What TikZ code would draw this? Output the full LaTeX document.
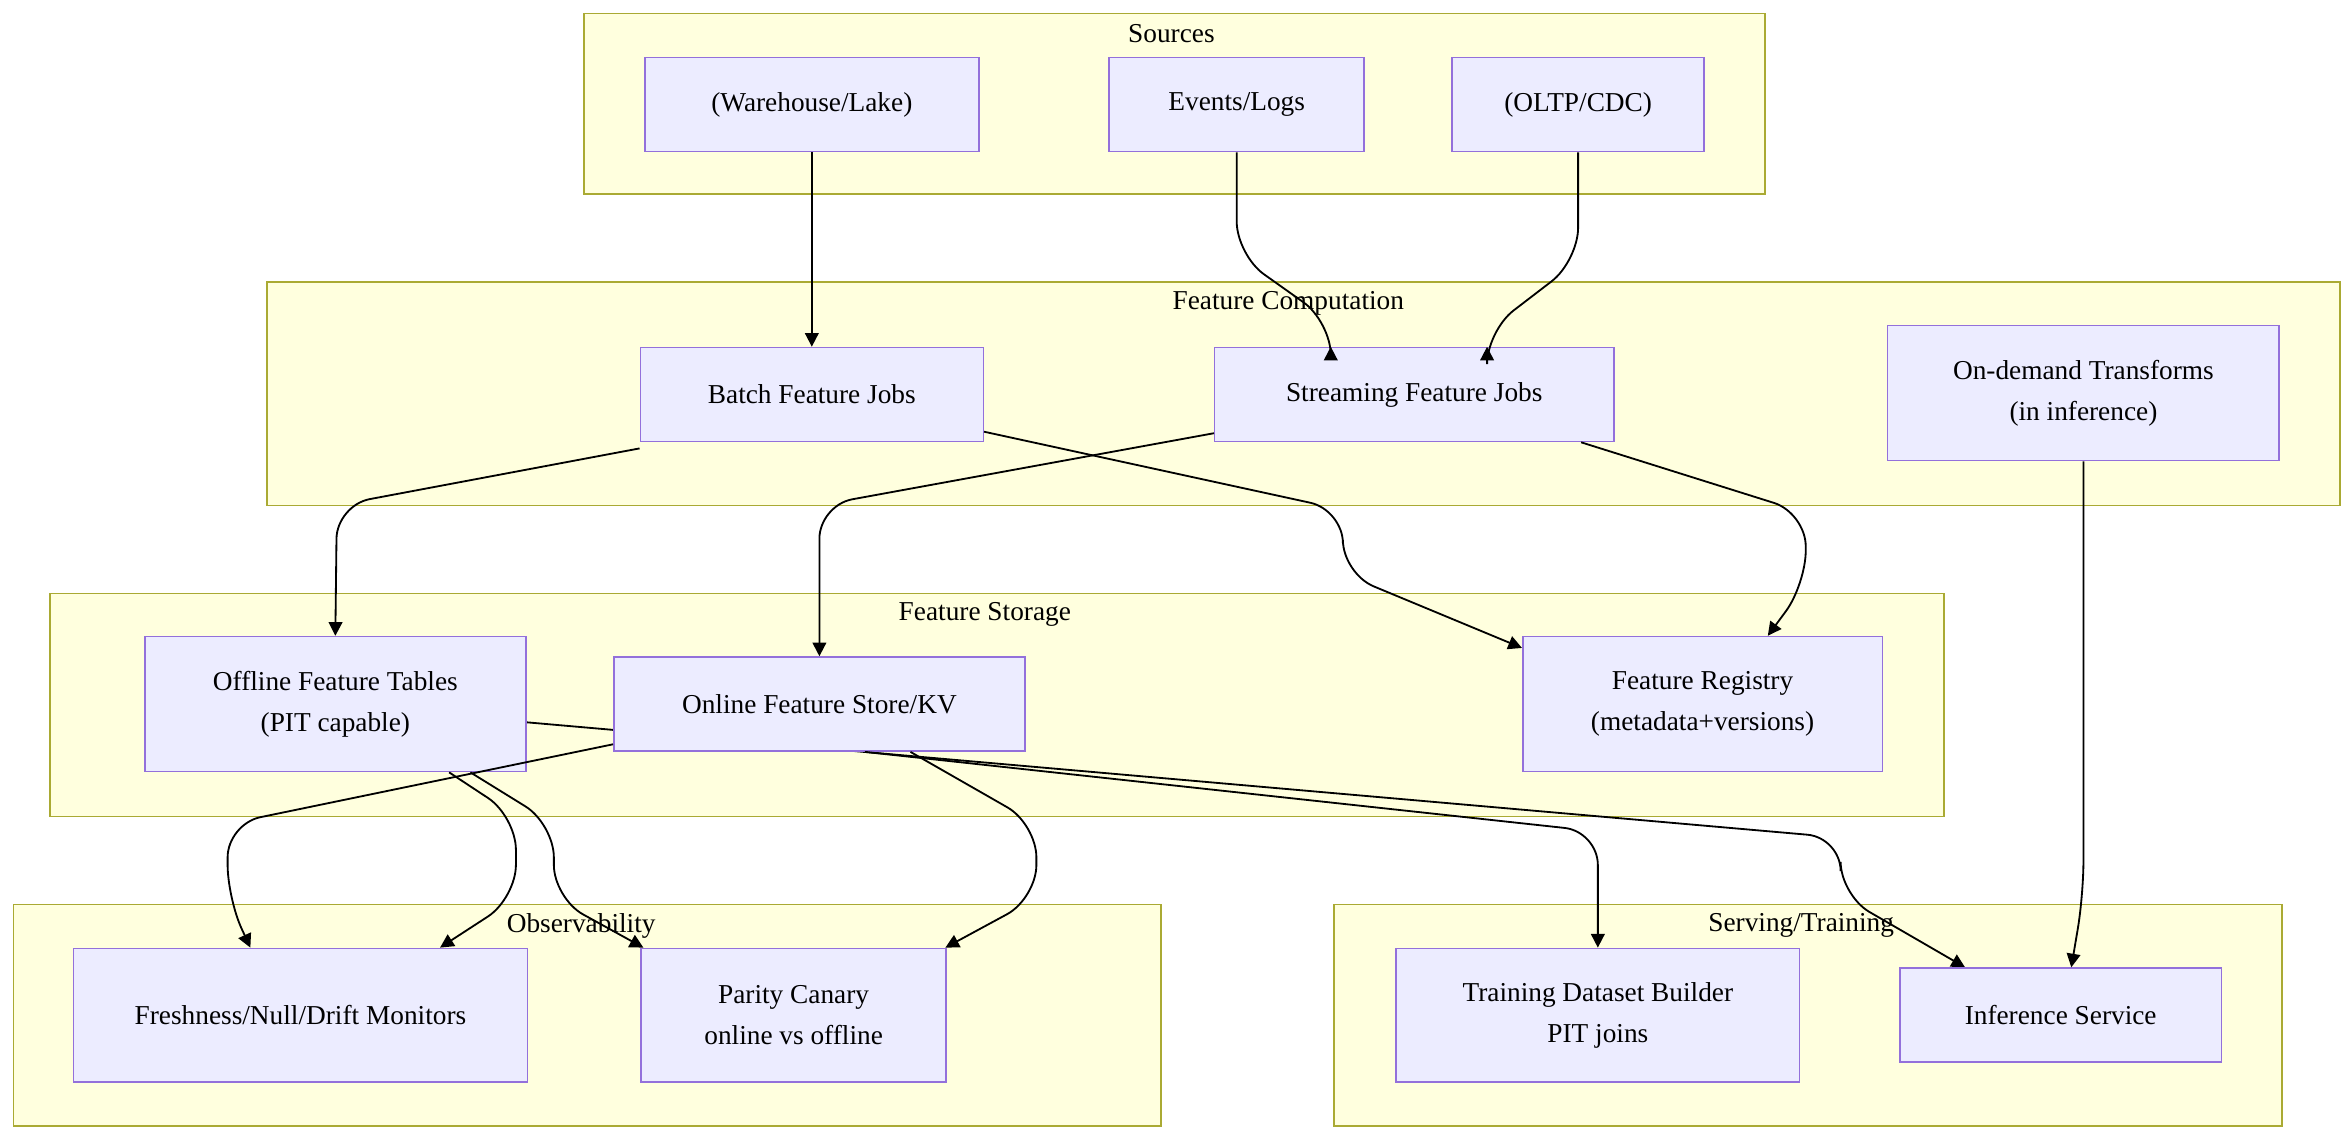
\documentclass[tikz,border=0pt]{standalone}
\usepackage{fontspec}
\setmainfont{Liberation Serif}
\usetikzlibrary{arrows.meta,positioning}
\pgfdeclarelayer{back}
\pgfsetlayers{back,main}
\definecolor{clfill}{HTML}{FFFFDE}
\definecolor{cldraw}{HTML}{AAAA33}
\definecolor{ndfill}{HTML}{ECECFF}
\definecolor{nddraw}{HTML}{9370DB}
\tikzset{cluster/.style={draw=cldraw, fill=clfill, line width=1pt}}
\tikzset{box/.style={draw=nddraw, fill=ndfill, line width=1pt, align=center, inner sep=0pt, font=\fontsize{18}{27}\selectfont}}
\tikzset{title/.style={font=\fontsize{18}{21}\selectfont}}
\tikzset{line/.style={draw, line width=1.2pt, rounded corners=22pt, -{Triangle[length=9pt,width=9pt]}}}
\begin{document}
\begin{tikzpicture}[x=1pt,y=-1pt]
			\useasboundingbox (0,0) rectangle (1550,751);
			% clusters
			\begin{pgfonlayer}{back}
			\draw [cluster] (385,9) rectangle (1163,128);
			\draw [cluster] (176,186) rectangle (1542,333);
			\draw [cluster] (33,391) rectangle (1281,538);
			\draw [cluster] (9,596) rectangle (765,742);
			\draw [cluster] (879,596) rectangle (1504,742);
			\end{pgfonlayer}
			\node [title] (tsrc) at (772,22) {Sources};
			\node [title] (tcomp) at (849,200) {Feature Computation};
			\node [title] (tstor) at (649,405) {Feature Storage};
			\node [title] (tobs) at (383,610) {Observability};
			\node [title] (tsrv) at (1187,610) {Serving/Training};
			%
			\node [box, minimum width=220, minimum height=62] (wh)   at (535,69)   {(Warehouse/Lake)};
			\node [box, minimum width=168, minimum height=62] (ev)   at (815,69)   {Events/Logs};
			\node [box, minimum width=166, minimum height=62] (oltp) at (1040,69)  {(OLTP/CDC)};
			\node [box, minimum width=226, minimum height=62] (bat)  at (535,260)  {Batch Feature Jobs};
			\node [box, minimum width=263, minimum height=62] (str)  at (932,260)  {Streaming Feature Jobs};
			\node [box, minimum width=258, minimum height=89] (ond)  at (1373,259) {On-demand Transforms\\(in inference)};
			\node [box, minimum width=251, minimum height=89] (off)  at (221,464)  {Offline Feature Tables\\(PIT capable)};
			\node [box, minimum width=271, minimum height=62] (onl)  at (540,464)  {Online Feature Store/KV};
			\node [box, minimum width=237, minimum height=89] (reg)  at (1122,464) {Feature Registry\\(metadata+versions)};
			\node [box, minimum width=299, minimum height=88] (fre)  at (198,669)  {Freshness/Null/Drift Monitors};
			\node [box, minimum width=201, minimum height=88] (par)  at (523,669)  {Parity Canary\\online vs offline};
			\node [box, minimum width=266, minimum height=88] (trn)  at (1053,669) {Training Dataset Builder\\PIT joins};
			\node [box, minimum width=212, minimum height=62] (inf)  at (1358,669) {Inference Service};
			%
			\path [line] (wh.south) -- (bat.north);
			\path [line] (ev.south) -- (815,168) -- (877,212) -- ([xshift=-55]str.north);
			\path [line] (oltp.south) -- (1040,172) -- (980,218) -- ([xshift=48]str.north);
			\path [line] ([yshift=-4]bat.south west) -- (222,333) -- (off.north);
			\path [line] ([yshift=7]bat.south east) -- (885,336) -- (885,378) -- ([yshift=-8]reg.north west);
			\path [line] ([yshift=6]str.south west) -- (540,333) -- (onl.north);
			\path [line] ([xshift=-22]str.south east) -- (1190,338) -- (1190,385) -- ([xshift=43]reg.north);
			\path [line] (ond.south) -- (1373,590) -- ([xshift=7]inf.north);
			\path [line] ([xshift=75]off.south) -- (340,538) -- (340,592) -- ([xshift=92]fre.north);
			\path [line] ([xshift=89]off.south) -- (365,543) -- (365,592) -- ([xshift=-99]par.north);
			\path [line] ([yshift=5]onl.south west) -- (150,543) -- (150,592) -- ([xshift=-33]fre.north);
			\path [line] ([xshift=60]onl.south) -- (683,543) -- (683,592) -- ([xshift=-1]par.north east);
			\path [line] ([xshift=30]onl.south) -- (1053,548) -- (trn.north);
			\begin{pgfonlayer}{back}
			\path [line] ([yshift=-12]off.east) -- (1213,552) -- (1213,590) -- ([xshift=-63]inf.north);
			\end{pgfonlayer}
			\end{tikzpicture}
\end{document}
